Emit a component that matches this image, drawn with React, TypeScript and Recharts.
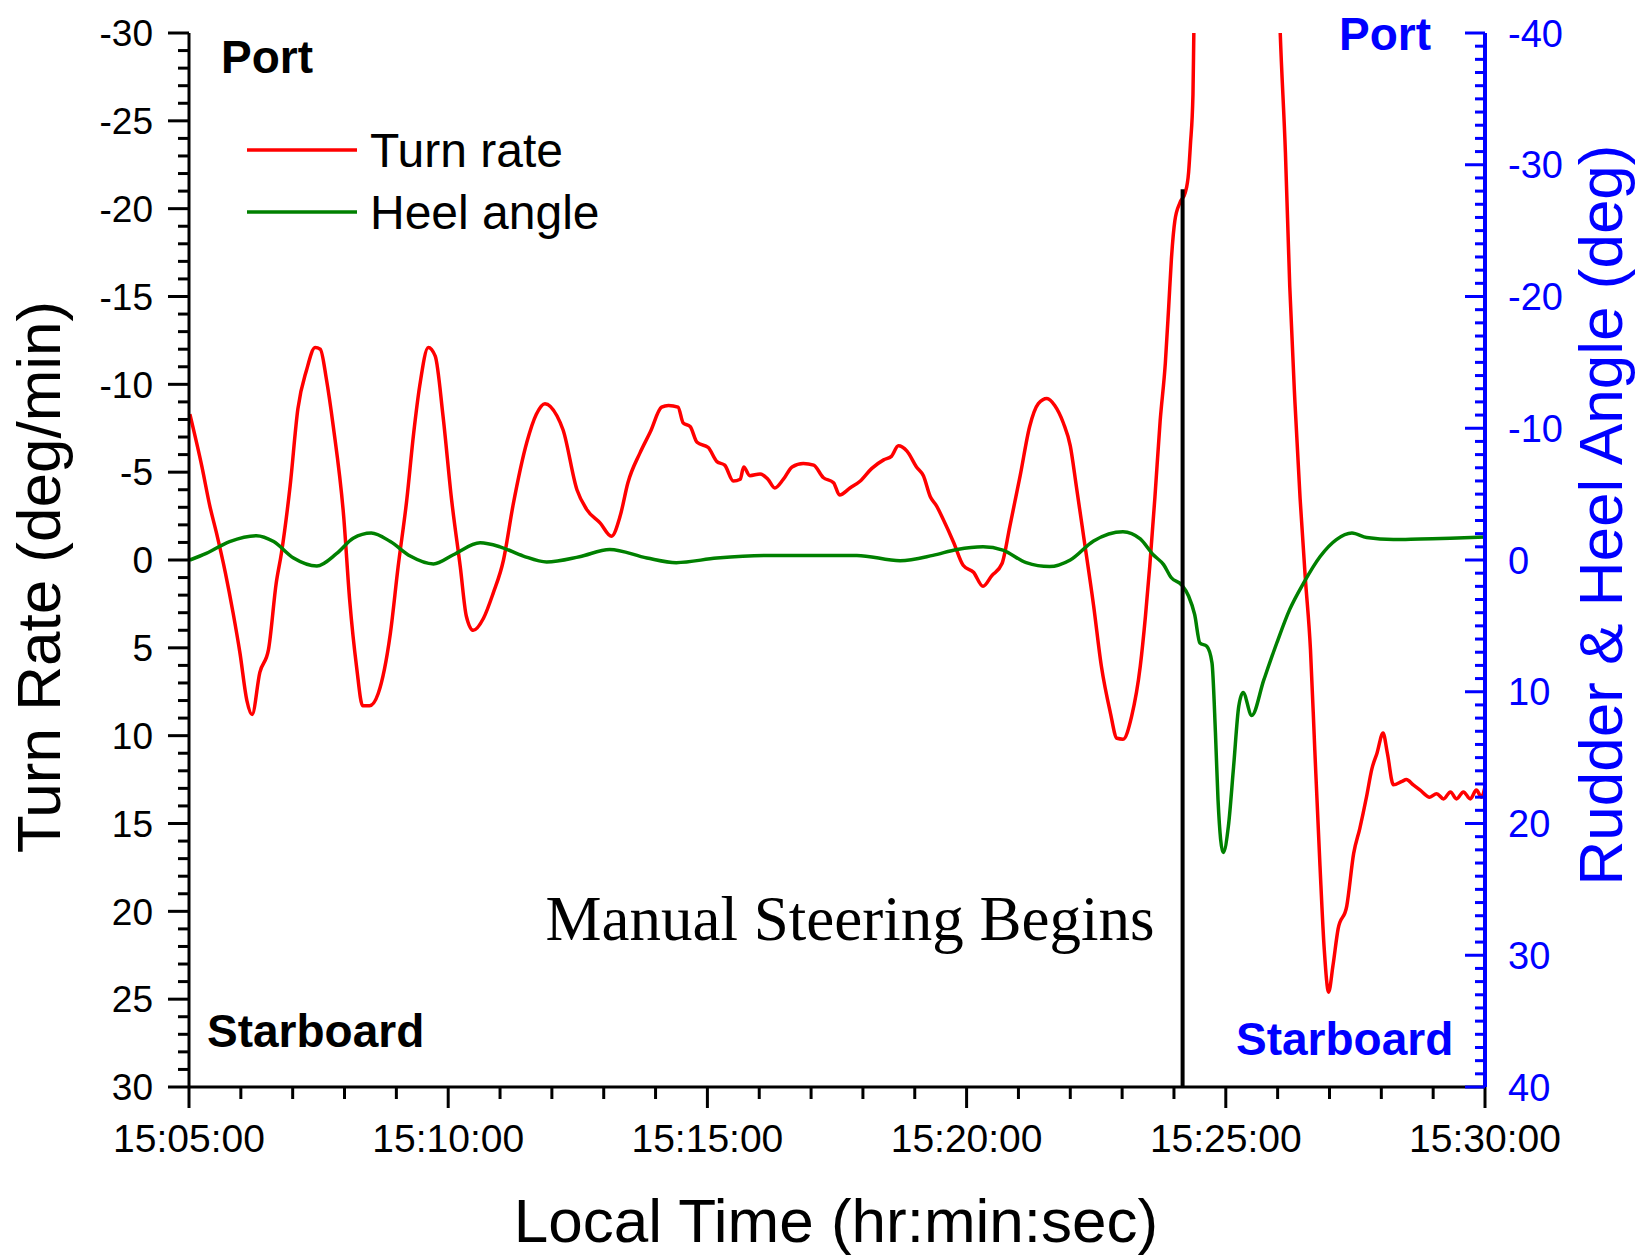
import React from "react";
import { LineChart, Line, XAxis, YAxis, ReferenceLine } from "recharts";

// time in seconds after 15:05:00
const turnTime = [
  1, 15, 24, 32, 42, 51, 59, 67, 73, 82, 92, 101, 107, 117, 126, 136, 146, 152, 159, 167,
  179, 186, 194, 201, 209, 219, 233, 242, 252, 260, 267, 277, 285, 294, 304, 314, 321, 329, 341, 352,
  364, 375, 391, 402, 412, 426, 433, 449, 460, 476, 489, 499, 508, 522, 534, 547, 555, 566, 572, 580,
  588, 601, 611, 620, 630, 638, 642, 649, 661, 670, 678, 688, 698, 711, 723, 734, 746, 753, 765, 777,
  790, 804, 813, 821, 831, 842, 850, 858, 865, 873, 885, 896, 908, 919, 929, 941, 950, 962, 973, 983,
  993, 1002, 1012, 1020, 1027, 1035, 1047, 1056, 1066, 1074, 1081, 1091, 1101, 1107, 1112, 1118, 1124, 1130, 1134, 1137,
  1141, 1147, 1153, 1157, 1159, 1162, 1163, 1167, 1200, 1230, 1258, 1263, 1269, 1274, 1280, 1286, 1292, 1298, 1303, 1309,
  1314, 1319, 1324, 1330, 1340, 1348, 1355, 1363, 1369, 1375, 1382, 1387, 1394, 1404, 1409, 1417, 1425, 1436, 1444, 1452,
  1460, 1467, 1475, 1483, 1490, 1496, 1500,
];
const turnRate = [
  -8.3, -5.3, -3.1, -1.5, 0.7, 3.0, 5.3, 8.0, 8.8, 6.4, 5.1, 1.3, -0.4, -4.2, -8.6, -10.8, -12.1, -12.0, -10.3, -7.6,
  -2.5, 2.3, 6.1, 8.3, 8.3, 7.6, 4.2, 0.4, -3.4, -7.2, -9.9, -12.1, -11.6, -8.2, -3.4, 0.4, 3.2, 4.0, 3.3, 1.9,
  0.0, -3.1, -6.7, -8.3, -8.9, -8.2, -7.4, -4.0, -2.9, -2.1, -1.35, -2.5, -4.4, -6.1, -7.3, -8.7, -8.8, -8.7, -7.8, -7.6,
  -6.7, -6.4, -5.6, -5.4, -4.5, -4.6, -5.3, -4.8, -4.9, -4.6, -4.1, -4.6, -5.3, -5.5, -5.4, -4.7, -4.4, -3.7, -4.1, -4.5,
  -5.2, -5.7, -5.9, -6.5, -6.2, -5.3, -4.8, -3.6, -3.1, -2.3, -1.0, 0.3, 0.7, 1.5, 0.9, 0.2, -1.9, -4.8, -7.6, -8.9,
  -9.2, -8.8, -7.8, -6.5, -4.2, -1.5, 2.6, 6.05, 8.6, 10.15, 10.2, 8.9, 6.05, 3.2, 0.35, -3.6, -7.9, -11.2, -14.5, -17.1,
  -19.3, -20.35, -20.9, -22.1, -23.6, -26.5, -30, -40, -58, -58, -38, -30, -23.2, -15.6, -9.0, -3.5, 1.0, 5.1, 10.8, 17.4,
  22.2, 24.6, 23.1, 21.0, 19.7, 16.7, 15.3, 13.45, 11.9, 11.0, 9.85, 11.0, 12.8, 12.6, 12.5, 12.8, 13.1, 13.5, 13.3, 13.6,
  13.2, 13.6, 13.2, 13.6, 13.1, 13.5, 12.9,
];

const heelTime = [
  1, 20, 47, 78, 98, 121, 148, 171, 190, 211, 233, 256, 283, 306, 337, 360, 387, 414, 452, 487,
  530, 564, 611, 669, 726, 773, 823, 861, 889, 919, 942, 969, 996, 1020, 1047, 1081, 1101, 1116, 1128, 1137,
  1149, 1157, 1164, 1170, 1178, 1184, 1188, 1191, 1197, 1203, 1209, 1215, 1220, 1230, 1244, 1259, 1274, 1290, 1309, 1328,
  1346, 1363, 1394, 1425, 1460, 1500,
];
const heelAngle = [
  0.0, -0.5, -1.4, -1.85, -1.4, -0.15, 0.45, -0.5, -1.65, -2.05, -1.4, -0.3, 0.3, -0.4, -1.3, -1.0, -0.3, 0.15, -0.25, -0.8,
  -0.15, 0.2, -0.15, -0.35, -0.35, -0.35, 0.05, -0.35, -0.8, -1.0, -0.75, 0.2, 0.5, 0.0, -1.45, -2.15, -1.6, -0.4, 0.35, 1.35,
  1.9, 2.75, 4.15, 6.3, 6.55, 7.8, 13.1, 18.2, 22.2, 20.2, 15.7, 11.1, 10.05, 11.8, 9.1, 6.3, 3.75, 1.75, -0.25, -1.55,
  -2.05, -1.7, -1.55, -1.6, -1.65, -1.75,
];

const xTickSeconds = [0, 300, 600, 900, 1200, 1500];
const xTickLabels = ["15:05:00", "15:10:00", "15:15:00", "15:20:00", "15:25:00", "15:30:00"];
const leftMajorTicks = [-30, -25, -20, -15, -10, -5, 0, 5, 10, 15, 20, 25, 30];
const rightMajorTicks = [-40, -30, -20, -10, 0, 10, 20, 30, 40];
const manualSteeringTime = 1150;
const manualLineTop = -21.1;

const seriesNames = ["Turn rate", "Heel angle"];
const RED = "#FF0000";
const GREEN = "#008000";
const BLUE = "#0000FF";
const SANS = "'Liberation Sans', Arial, sans-serif";
const SERIF = "'Liberation Serif', 'Times New Roman', serif";

const turnData = turnTime.map((t, i) => ({ t, v: turnRate[i] }));
const heelData = heelTime.map((t, i) => ({ t, v: heelAngle[i] }));

const range = (a: number, b: number, s: number) => {
  const r: number[] = [];
  for (let v = a; v <= b; v += s) r.push(v);
  return r;
};
const xTicksAll = range(0, 1500, 60);
const leftTicksAll = range(-30, 30, 1);
const rightTicksAll = range(-40, 40, 1);

const XTick = (props: any) => {
  const { x, y, payload } = props;
  const idx = xTickSeconds.indexOf(payload.value);
  const major = idx >= 0;
  return (
    <g>
      <line x1={x} x2={x} y1={y} y2={y + (major ? 21 : 12)} stroke="#000" strokeWidth={3} />
      {major && (
        <text x={x} y={y + 65} textAnchor="middle" fontFamily={SANS} fontSize={39} fill="#000">
          {xTickLabels[idx]}
        </text>
      )}
    </g>
  );
};

const LeftTick = (props: any) => {
  const { x, y, payload } = props;
  const major = leftMajorTicks.includes(payload.value);
  return (
    <g>
      <line x1={x - (major ? 21 : 11)} x2={x} y1={y} y2={y} stroke="#000" strokeWidth={3} />
      {major && (
        <text x={x - 36} y={y} dy="0.36em" textAnchor="end" fontFamily={SANS} fontSize={37} fill="#000">
          {payload.value}
        </text>
      )}
    </g>
  );
};

const RightTick = (props: any) => {
  const { x, y, payload } = props;
  const major = rightMajorTicks.includes(payload.value);
  return (
    <g>
      <line x1={x} x2={x - (major ? 20 : 10)} y1={y} y2={y} stroke={BLUE} strokeWidth={3} />
      {major && (
        <text x={x + 23} y={y} dy="0.36em" textAnchor="start" fontFamily={SANS} fontSize={38} fill={BLUE}>
          {payload.value}
        </text>
      )}
    </g>
  );
};

export default function App() {
  return (
    <div style={{ position: "absolute", left: 0, top: 0, width: 1643, height: 1255, background: "#fff" }}>
      <LineChart width={1643} height={1255} margin={{ top: 33, right: 0, bottom: 0, left: 0 }}>
        <XAxis
          dataKey="t"
          type="number"
          domain={[0, 1500]}
          ticks={xTicksAll}
          interval={0}
          height={168}
          tickSize={0}
          tickMargin={0}
          tickLine={false}
          axisLine={{ stroke: "#000", strokeWidth: 3 }}
          tick={(p: any) => <XTick {...p} />}
        />
        <YAxis
          yAxisId="left"
          type="number"
          domain={[-30, 30]}
          reversed
          allowDataOverflow
          ticks={leftTicksAll}
          interval={0}
          width={189}
          tickSize={0}
          tickMargin={0}
          tickLine={false}
          axisLine={{ stroke: "#000", strokeWidth: 3 }}
          tick={(p: any) => <LeftTick {...p} />}
        />
        <YAxis
          yAxisId="right"
          orientation="right"
          type="number"
          domain={[-40, 40]}
          reversed
          allowDataOverflow
          ticks={rightTicksAll}
          interval={0}
          width={158}
          tickSize={0}
          tickMargin={0}
          tickLine={false}
          axisLine={{ stroke: BLUE, strokeWidth: 4 }}
          tick={(p: any) => <RightTick {...p} />}
        />
        <Line
          yAxisId="left"
          data={turnData}
          dataKey="v"
          name={seriesNames[0]}
          type="monotone"
          stroke={RED}
          strokeWidth={3.5}
          dot={false}
          isAnimationActive={false}
        />
        <Line
          yAxisId="right"
          data={heelData}
          dataKey="v"
          name={seriesNames[1]}
          type="monotone"
          stroke={GREEN}
          strokeWidth={3.5}
          dot={false}
          isAnimationActive={false}
        />
        <ReferenceLine
          yAxisId="left"
          segment={[
            { x: manualSteeringTime, y: 30 },
            { x: manualSteeringTime, y: manualLineTop },
          ]}
          stroke="#000"
          strokeWidth={4}
        />
      </LineChart>
      <svg
        width={1643}
        height={1255}
        style={{ position: "absolute", left: 0, top: 0, pointerEvents: "none" }}
      >
        {/* legend */}
        <line x1={247} x2={357} y1={150} y2={150} stroke={RED} strokeWidth={3.5} />
        <text x={370} y={167} fontFamily={SANS} fontSize={48} fill="#000">{seriesNames[0]}</text>
        <line x1={247} x2={357} y1={212} y2={212} stroke={GREEN} strokeWidth={3.5} />
        <text x={370} y={229} fontFamily={SANS} fontSize={48} fill="#000">{seriesNames[1]}</text>

        {/* side labels */}
        <text x={221} y={73} fontFamily={SANS} fontWeight="bold" fontSize={46} fill="#000">Port</text>
        <text x={207} y={1047} fontFamily={SANS} fontWeight="bold" fontSize={46} fill="#000">Starboard</text>
        <text x={1339} y={50} fontFamily={SANS} fontWeight="bold" fontSize={46} fill={BLUE}>Port</text>
        <text x={1236} y={1055} fontFamily={SANS} fontWeight="bold" fontSize={46} fill={BLUE}>Starboard</text>

        {/* annotation */}
        <text x={850} y={940} textAnchor="middle" fontFamily={SERIF} fontSize={63} fill="#000">
          Manual Steering Begins
        </text>

        {/* axis titles */}
        <text transform="translate(60,577) rotate(-90)" textAnchor="middle" fontFamily={SANS} fontSize={62} fill="#000">
          Turn Rate (deg/min)
        </text>
        <text transform="translate(1622,515) rotate(-90)" textAnchor="middle" fontFamily={SANS} fontSize={62} fill={BLUE}>
          Rudder &amp; Heel Angle (deg)
        </text>
        <text x={836} y={1242} textAnchor="middle" fontFamily={SANS} fontSize={62} fill="#000">
          Local Time (hr:min:sec)
        </text>
      </svg>
    </div>
  );
}
